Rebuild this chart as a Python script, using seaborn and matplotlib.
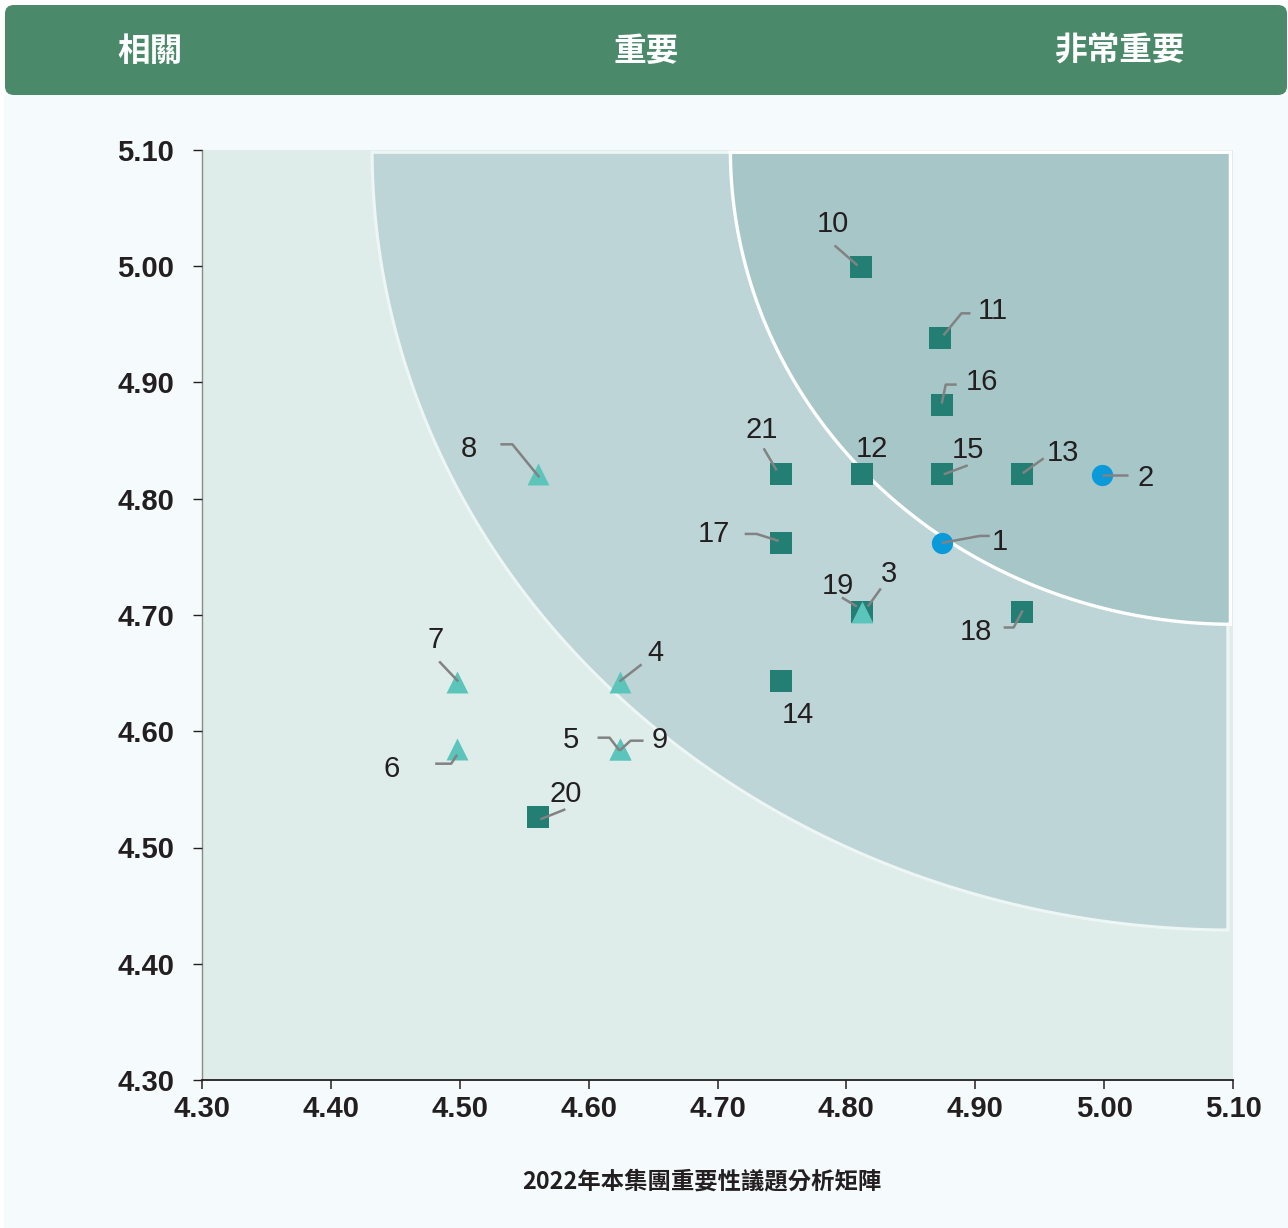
import numpy as np
import pandas as pd
import matplotlib
matplotlib.use("Agg")
import matplotlib.pyplot as plt
import seaborn as sns
from matplotlib.patches import Polygon, FancyBboxPatch, Rectangle

# ---------------- data ----------------
sq_ids = ["10", "11", "16", "15", "13", "12", "21", "17", "19", "18", "14", "20"]
sq_x = [4.811, 4.873, 4.874, 4.874, 4.936, 4.812, 4.749, 4.749, 4.812, 4.936, 4.749, 4.561]
sq_y = [4.999, 4.938, 4.881, 4.821, 4.821, 4.821, 4.821, 4.762, 4.703, 4.703, 4.643, 4.526]

tri_ids = ["3", "8", "7", "4", "6", "5", "9"]
tri_x = [4.812, 4.561, 4.498, 4.624, 4.498, 4.624, 4.624]
tri_y = [4.703, 4.821, 4.642, 4.642, 4.585, 4.585, 4.585]

cir_ids = ["1", "2"]
cir_x = [4.874, 4.998]
cir_y = [4.762, 4.820]

ticks = [4.30, 4.40, 4.50, 4.60, 4.70, 4.80, 4.90, 5.00, 5.10]
tick_labels = ["4.30", "4.40", "4.50", "4.60", "4.70", "4.80", "4.90", "5.00", "5.10"]
header_labels = ["相關", "重要", "非常重要"]
title = "2022年本集團重要性議題分析矩陣"

# label placement (pixel offsets from the marker: label centre, leader polyline)
label_off = {
    "1": ((58, -3), [(0, 0), (38, -7), (48, -7)]),
    "2": ((44, 0), [(0, 0), (26, 0)]),
    "10": ((-28, -46), [(-3, -2), (-26, -22)]),
    "11": ((52, -30), [(3, -3), (21, -25), (30, -25)]),
    "16": ((40, -25), [(0, -1), (4, -20), (15, -20)]),
    "15": ((26, -27), [(2, 0), (26, -9)]),
    "13": ((41, -24), [(1, -1), (22, -16)]),
    "12": ((10, -28), []),
    "21": ((-19, -47), [(-4, -4), (-17, -26)]),
    "17": ((-67, -11), [(-2, -2), (-24, -9), (-36, -9)]),
    "19": ((-24, -28), [(-5, -5), (-20, -14)]),
    "3": ((27, -40), [(6, -5), (19, -23)]),
    "18": ((-46, 18), [(1, -1), (-8, 16), (-18, 16)]),
    "14": ((17, 31), []),
    "20": ((27, -26), [(2, 2), (27, -8)]),
    "8": ((-69, -28), [(1, 3), (-26, -30), (-38, -30)]),
    "7": ((-22, -45), [(1, -1), (-18, -21)]),
    "4": ((36, -32), [(0, -1), (22, -18)]),
    "6": ((-66, 18), [(0, 6), (-6, 15), (-22, 15)]),
    "5": ((-49, -11), [(0, 2), (-10, -11), (-22, -11)]),
    "9": ((40, -11), [(0, 2), (11, -8), (24, -8)]),
}

# ---------------- figure ----------------
W, H = 1288, 1228
fig = plt.figure(figsize=(W / 100, H / 100), dpi=100, facecolor="white")

# background panel
fig.patches.append(Rectangle((4 / W, 0), 1 - 4 / W, (H - 95) / H, transform=fig.transFigure,
                             facecolor="#f5fafc", edgecolor="none", zorder=-5))
# header bar
fig.patches.append(FancyBboxPatch((5 / W, (H - 95) / H), (1282) / W, 90 / H,
                                  boxstyle="round,pad=0,rounding_size=0.007",
                                  transform=fig.transFigure, facecolor="#4b896b",
                                  edgecolor="none", zorder=-4))
for txt, px in zip(header_labels, [150, 646, 1120]):
    fig.text(px / W, 1 - 51 / H, txt, color="white", fontsize=23.5, fontweight="bold",
             family=["Noto Sans CJK TC", "DejaVu Sans"], ha="center", va="center", zorder=2)

fig.text(702 / W, 1 - 1181 / H, title, color="#231f20", fontsize=16.8, fontweight="bold",
         family=["Noto Sans CJK TC", "DejaVu Sans"], ha="center", va="center")

ax = fig.add_axes([202 / W, (H - 1080) / H, (1233 - 202) / W, (1080 - 150) / H], zorder=3)
ax.set_xlim(4.30, 5.10)
ax.set_ylim(4.30, 5.10)
ax.set_facecolor("#deede9")


def quarter(cx, cy, rx, ry, right, top):
    t = np.linspace(np.pi, 1.5 * np.pi, 200)
    xs = cx + rx * np.cos(t)
    ys = cy + ry * np.sin(t)
    m = (xs <= right) & (ys <= top)
    pts = list(zip(xs[m], ys[m]))
    pts = [(cx - rx, top)] + pts + [(right, cy - ry), (right, top)]
    return pts


mid = Polygon(quarter(5.10, 5.10, 0.668, 0.671, 5.096, 5.098), closed=True,
              facecolor="#bdd5d7", edgecolor="#eef6f5", linewidth=2.2, zorder=1)
inner = Polygon(quarter(5.10, 5.10, 0.39, 0.408, 5.098, 5.098), closed=True,
                facecolor="#a7c6c8", edgecolor="white", linewidth=2.4, zorder=2)
ax.add_patch(mid)
ax.add_patch(inner)

df_sq = pd.DataFrame({"id": sq_ids, "x": sq_x, "y": sq_y})
df_tri = pd.DataFrame({"id": tri_ids, "x": tri_x, "y": tri_y})
df_cir = pd.DataFrame({"id": cir_ids, "x": cir_x, "y": cir_y})

sns.scatterplot(data=df_sq, x="x", y="y", marker="s", s=250, color="#237f74",
                linewidth=0, ax=ax, zorder=5)
sns.scatterplot(data=df_tri, x="x", y="y", marker="^", s=250, color="#5cc5bb",
                linewidth=0, ax=ax, zorder=6)
sns.scatterplot(data=df_cir, x="x", y="y", marker="o", s=235, color="#0b9ad9",
                linewidth=0, ax=ax, zorder=7)

ax.set_xlim(4.30, 5.10)
ax.set_ylim(4.30, 5.10)
ax.set_xlabel("")
ax.set_ylabel("")

# labels and leaders
allpts = pd.concat([df_sq, df_tri, df_cir], ignore_index=True)
fig.canvas.draw()
inv = ax.transData.inverted()
for _, r in allpts.iterrows():
    (tdx, tdy), path = label_off[r["id"]]
    base = ax.transData.transform((r["x"], r["y"]))
    if path:
        verts = [inv.transform((base[0] + dx, base[1] - dy)) for dx, dy in path]
        vx, vy = zip(*verts)
        ax.plot(vx, vy, color="#828282", linewidth=1.8, solid_capstyle="butt", zorder=8)
    ax.annotate(r["id"], xy=(r["x"], r["y"]), xytext=(tdx, -(tdy + 10.5)),
                textcoords="offset pixels", ha="center", va="baseline",
                fontsize=21, color="#231f20", family=["Liberation Sans", "DejaVu Sans"],
                zorder=9)

# axes styling
ax.set_xticks(ticks)
ax.set_yticks(ticks)
ax.set_xticklabels(tick_labels)
ax.set_yticklabels(tick_labels)
for lab in ax.get_xticklabels() + ax.get_yticklabels():
    lab.set_fontsize(21)
    lab.set_fontweight("bold")
    lab.set_family(["Liberation Sans", "DejaVu Sans"])
    lab.set_color("#231f20")
ax.tick_params(axis="x", direction="out", length=6.5, width=1.1, color="#231f20", pad=4.5)
ax.tick_params(axis="y", direction="out", length=6.5, width=1.0, color="#231f20", pad=13.5)
for s in ["top", "right"]:
    ax.spines[s].set_visible(False)
ax.spines["left"].set_color("#8a8a8a")
ax.spines["left"].set_linewidth(1.0)
ax.spines["bottom"].set_color("#231f20")
ax.spines["bottom"].set_linewidth(1.3)
ax.set_axisbelow(False)

fig.savefig("out.png", dpi=100, facecolor=fig.get_facecolor())
